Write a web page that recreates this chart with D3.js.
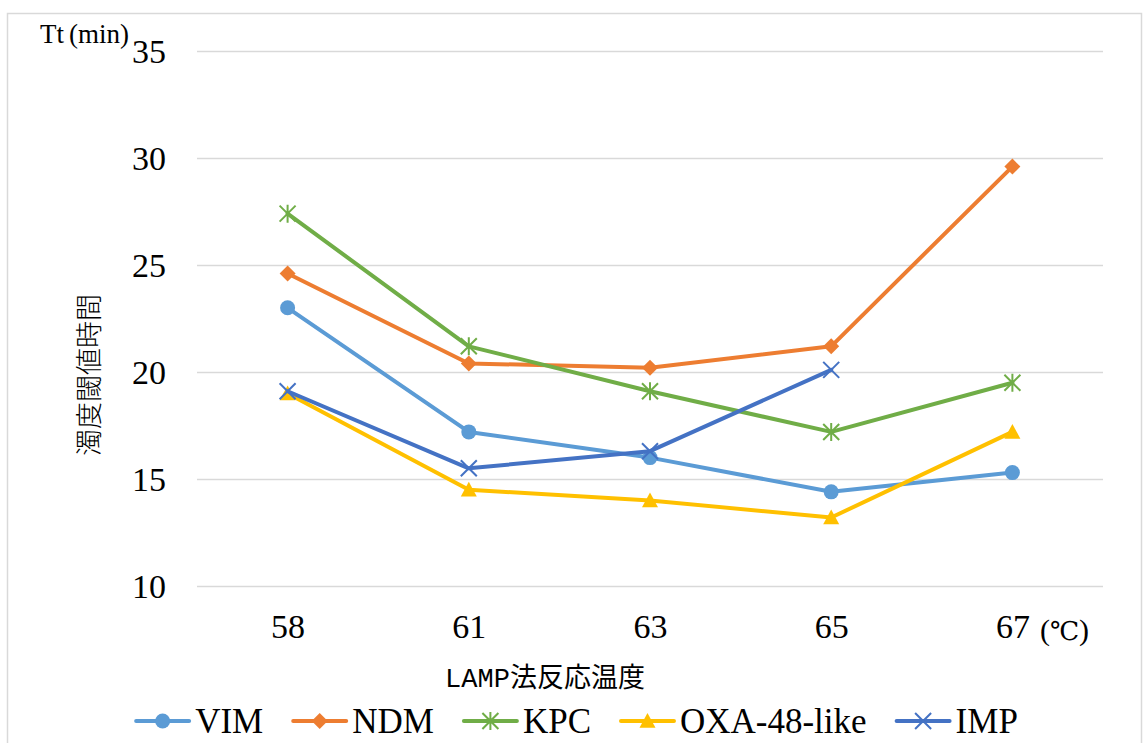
<!DOCTYPE html>
<html>
<head>
<meta charset="utf-8">
<script src="https://cdn.jsdelivr.net/npm/d3@7"></script>
<style>
  html, body { margin: 0; padding: 0; background: #fff; }
  svg { display: block; }
</style>
</head>
<body>
<svg id="chart" width="1146" height="743"></svg>
<script>
// Reaction temperatures (°C) on the x axis
const temperatures = ["58", "61", "63", "65", "67"];
// Turbidity threshold time Tt (min) per gene
const vimValues = [23.0, 17.2, 16.0, 14.4, 15.3];
const ndmValues = [24.6, 20.4, 20.2, 21.2, 29.6];
const kpcValues = [27.4, 21.2, 19.1, 17.2, 19.5];
const oxaValues = [19.0, 14.5, 14.0, 13.2, 17.2];
const impValues = [19.1, 15.5, 16.3, 20.1, null];
const yTicks = [10, 15, 20, 25, 30, 35];
const seriesNames = ["VIM", "NDM", "KPC", "OXA-48-like", "IMP"];

const series = [
  { name: seriesNames[0], values: vimValues, color: "#5B9BD5", marker: "circle" },
  { name: seriesNames[1], values: ndmValues, color: "#ED7D31", marker: "diamond" },
  { name: seriesNames[2], values: kpcValues, color: "#70AD47", marker: "asterisk" },
  { name: seriesNames[3], values: oxaValues, color: "#FFC000", marker: "triangle" },
  { name: seriesNames[4], values: impValues, color: "#4472C4", marker: "cross" }
];

const svg = d3.select("#chart");
const serif = "Liberation Serif, Times New Roman, serif";

// outer chart border
svg.append("rect")
  .attr("x", 7.5).attr("y", 13.5)
  .attr("width", 1134).attr("height", 760)
  .attr("fill", "none").attr("stroke", "#d9d9d9").attr("stroke-width", 1.5);

const plot = { left: 197, right: 1103, top: 51, bottom: 586 };

const x = d3.scalePoint().domain(temperatures).range([plot.left, plot.right]).padding(0.5);
const y = d3.scaleLinear().domain([10, 35]).range([plot.bottom, plot.top]);

// horizontal gridlines + y tick labels
const yAxis = d3.axisLeft(y).tickValues(yTicks).tickSize(-(plot.right - plot.left)).tickPadding(31).tickFormat(d3.format("d"));
const gy = svg.append("g").attr("transform", `translate(${plot.left},0)`).call(yAxis);
gy.select(".domain").remove();
gy.selectAll(".tick line").attr("stroke", "#d9d9d9").attr("stroke-width", 1.5);
gy.selectAll(".tick text")
  .attr("font-family", serif).attr("font-size", 34).attr("fill", "#000")
  .attr("dy", "0.34em");

// x tick labels
const xAxis = d3.axisBottom(x).tickSize(0).tickPadding(28);
const gx = svg.append("g").attr("transform", `translate(0,${plot.bottom})`).call(xAxis);
gx.select(".domain").remove();
gx.selectAll(".tick text")
  .attr("font-family", serif).attr("font-size", 34).attr("fill", "#000");

// unit for the x axis
const unit = svg.append("text")
  .attr("x", 1040).attr("y", 640)
  .attr("font-family", serif).attr("font-size", 30).attr("fill", "#000");
unit.append("tspan").text("(");
unit.append("tspan").attr("font-size", 26).attr("font-family", "DejaVu Serif, serif").text("℃");
unit.append("tspan").text(")");

// axis titles
svg.append("text")
  .attr("x", 545).attr("y", 687)
  .attr("text-anchor", "middle")
  .attr("font-family", "'Liberation Mono', 'DejaVu Sans Mono', 'Noto Sans CJK JP', monospace")
  .attr("font-size", 27).attr("fill", "#000")
  .text("LAMP法反応温度");

svg.append("text")
  .attr("transform", "translate(99,375) rotate(-90)")
  .attr("text-anchor", "middle")
  .attr("font-family", "Noto Sans CJK JP, sans-serif")
  .attr("font-size", 27).attr("font-weight", 300).attr("fill", "#000")
  .text("濁度閾値時間");

const tt = svg.append("text")
  .attr("x", 40).attr("y", 43)
  .attr("font-family", serif).attr("font-size", 27).attr("fill", "#000");
tt.append("tspan").text("Tt");
tt.append("tspan").attr("dx", 5).text("(min)");

// marker shapes
function drawMarker(g, type, color) {
  const s = 8;
  if (type === "circle") {
    g.append("circle").attr("r", 7.5).attr("fill", color);
  } else if (type === "diamond") {
    g.append("path").attr("d", `M0,${-s}L${s},0L0,${s}L${-s},0Z`).attr("fill", color);
  } else if (type === "triangle") {
    g.append("path").attr("d", `M0,${-s}L${s},${s * 0.85}L${-s},${s * 0.85}Z`).attr("fill", color);
  } else if (type === "asterisk") {
    g.append("path")
      .attr("d", `M${-s},${-s}L${s},${s}M${-s},${s}L${s},${-s}M0,${-s - 1}L0,${s + 1}`)
      .attr("stroke", color).attr("stroke-width", 2).attr("fill", "none");
  } else if (type === "cross") {
    g.append("path")
      .attr("d", `M${-s},${-s}L${s},${s}M${-s},${s}L${s},${-s}`)
      .attr("stroke", color).attr("stroke-width", 2).attr("fill", "none");
  }
}

const line = d3.line()
  .defined(d => d != null)
  .x((d, i) => x(temperatures[i]))
  .y(d => y(d));

series.forEach(s => {
  const g = svg.append("g");
  g.append("path")
    .datum(s.values)
    .attr("d", line)
    .attr("fill", "none")
    .attr("stroke", s.color)
    .attr("stroke-width", 4)
    .attr("stroke-linejoin", "round")
    .attr("stroke-linecap", "round");
  s.values.forEach((v, i) => {
    if (v == null) return;
    const m = g.append("g").attr("transform", `translate(${x(temperatures[i])},${y(v)})`);
    drawMarker(m, s.marker, s.color);
  });
});

// legend
const legend = svg.append("g");
const symLen = 53, textGap = 6, itemGap = 30, legendY = 721, legendCenter = 577;
const items = series.map(s => {
  const g = legend.append("g");
  g.append("line")
    .attr("x1", 0).attr("x2", symLen).attr("y1", 0).attr("y2", 0)
    .attr("stroke", s.color).attr("stroke-width", 4).attr("stroke-linecap", "round");
  const m = g.append("g").attr("transform", `translate(${symLen / 2},0)`);
  drawMarker(m, s.marker, s.color);
  const t = g.append("text")
    .attr("x", symLen + textGap).attr("y", 0).attr("dy", "0.34em")
    .attr("font-family", serif).attr("font-size", 35).attr("fill", "#000")
    .text(s.name);
  return { g, w: symLen + textGap + t.node().getComputedTextLength() };
});
const total = d3.sum(items, d => d.w) + itemGap * (items.length - 1);
let cx = legendCenter - total / 2;
items.forEach(it => {
  it.g.attr("transform", `translate(${cx},${legendY})`);
  cx += it.w + itemGap;
});
</script>
</body>
</html>
